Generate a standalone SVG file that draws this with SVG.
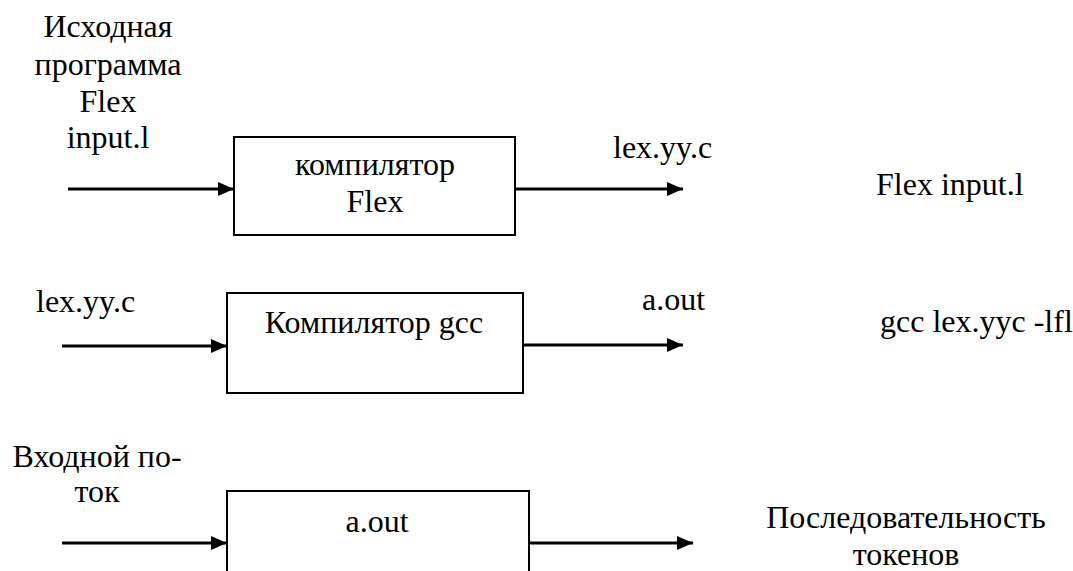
<svg xmlns="http://www.w3.org/2000/svg" width="1073" height="571" viewBox="0 0 1073 571">
<style>
.c{text-anchor:middle}
.box{fill:#fff;stroke:#000;stroke-width:2}
.ar{stroke:#000;stroke-width:3;fill:none;marker-end:url(#ah)}
</style>
<defs>
<marker id="ah" viewBox="0 0 16 16" refX="16" refY="8" markerWidth="16" markerHeight="16" markerUnits="userSpaceOnUse" orient="auto">
<path d="M0,1 L16,8 L0,15 z" fill="#000"/>
</marker>
</defs>
<rect width="1073" height="571" fill="#fff"/>
<g font-family="Liberation Serif, Times New Roman, Times, Noto Serif, DejaVu Serif, serif" font-size="32" fill="#000">
<g id="labels">
<text class="c" x="108" y="37">Исходная</text>
<text class="c" x="108" y="75">программа</text>
<text class="c" x="108" y="112">Flex</text>
<text class="c" x="108" y="148">input.l</text>
<text x="613" y="158">lex.yy.c</text>
<text x="876" y="195">Flex input.l</text>
<text x="36" y="312">lex.yy.c</text>
<text x="642" y="310">a.out</text>
<text x="880" y="332">gcc lex.yyc -lfl</text>
<text class="c" x="97" y="467">Входной по-</text>
<text class="c" x="97" y="502">ток</text>
<text class="c" x="906" y="528">Последовательность</text>
<text class="c" x="906" y="565">токенов</text>
</g>
<g id="node-flex">
<rect class="box" x="234" y="137" width="281" height="98"/>
<text class="c" x="375" y="175">компилятор</text>
<text class="c" x="375" y="212">Flex</text>
</g>
<g id="node-gcc">
<rect class="box" x="227" y="293" width="296" height="100"/>
<text class="c" x="374" y="333">Компилятор gcc</text>
</g>
<g id="node-aout">
<rect class="box" x="227" y="491" width="302" height="100"/>
<text class="c" x="377" y="532">a.out</text>
</g>
</g>
<g id="connectors">
<line class="ar" x1="68" y1="189" x2="234" y2="189"/>
<line class="ar" x1="516" y1="189" x2="683" y2="189"/>
<line class="ar" x1="62" y1="346" x2="227" y2="346"/>
<line class="ar" x1="524" y1="345" x2="683" y2="345"/>
<line class="ar" x1="62" y1="543" x2="227" y2="543"/>
<line class="ar" x1="530" y1="543" x2="693" y2="543"/>
</g>
</svg>
